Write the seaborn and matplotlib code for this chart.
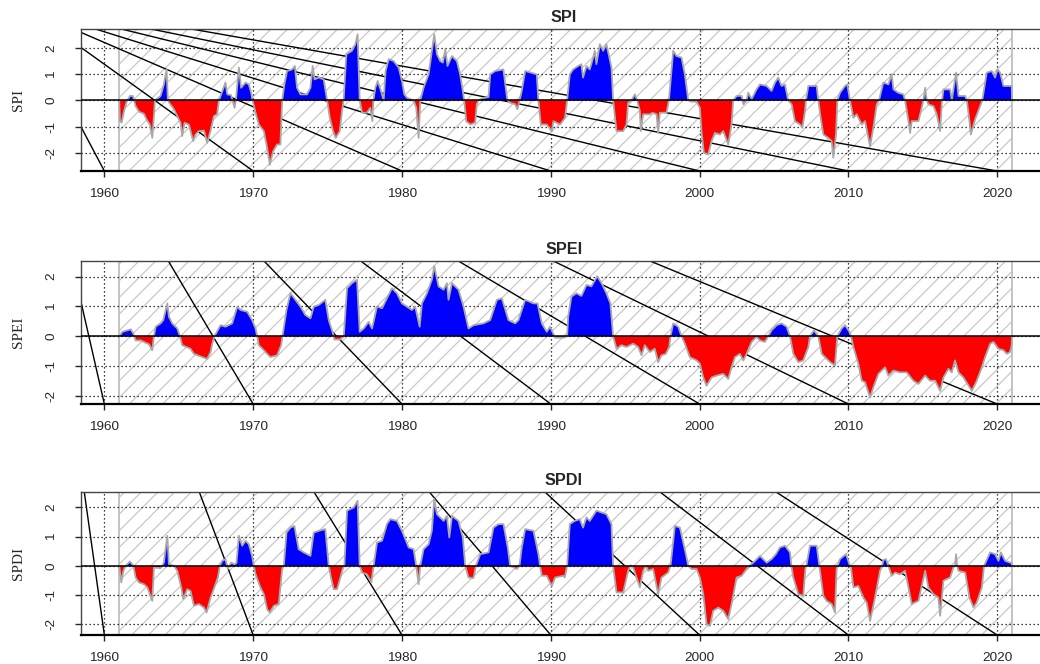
import numpy as np
import pandas as pd
import matplotlib
matplotlib.use("Agg")
import matplotlib.pyplot as plt
import seaborn as sns
from matplotlib.patches import Rectangle

# values (decimal year, index value)
spi_years = [1961.00, 1961.05, 1961.16, 1961.32, 1961.50, 1961.72, 1961.92, 1961.99, 1962.10, 1962.33,
             1962.66, 1962.84, 1963.06, 1963.22, 1963.29, 1963.40, 1963.78, 1964.00, 1964.18, 1964.27,
             1964.41, 1964.68, 1964.90, 1965.12, 1965.23, 1965.39, 1965.68, 1965.97, 1966.13, 1966.35,
             1966.69, 1966.91, 1967.14, 1967.36, 1967.58, 1967.70, 1967.85, 1968.14, 1968.26, 1968.52,
             1968.75, 1968.84, 1969.04, 1969.19, 1969.49, 1969.71, 1969.87, 1969.96, 1970.16, 1970.38,
             1970.72, 1970.94, 1971.12, 1971.34, 1971.61, 1971.83, 1971.95, 1972.10, 1972.28, 1972.62,
             1972.80, 1972.95, 1973.18, 1973.62, 1973.85, 1974.00, 1974.12, 1974.41, 1974.74, 1974.97,
             1975.15, 1975.37, 1975.55, 1975.82, 1975.97, 1976.08, 1976.26, 1976.64, 1976.87, 1977.02,
             1977.16, 1977.32, 1977.65, 1977.87, 1978.01, 1978.08, 1978.21, 1978.37, 1978.59, 1978.77,
             1978.90, 1979.11, 1979.44, 1979.78, 1980.00, 1980.16, 1980.34, 1980.78, 1980.96, 1981.12,
             1981.23, 1981.45, 1981.79, 1982.01, 1982.17, 1982.35, 1982.57, 1982.75, 1982.91, 1983.06,
             1983.36, 1983.69, 1983.91, 1984.09, 1984.18, 1984.32, 1984.59, 1984.92, 1985.03, 1985.15,
             1985.37, 1985.82, 1985.93, 1986.26, 1986.82, 1987.00, 1987.09, 1987.27, 1987.61, 1987.76,
             1987.90, 1988.05, 1988.28, 1988.66, 1989.06, 1989.17, 1989.33, 1989.73, 1990.07, 1990.18,
             1990.63, 1990.96, 1991.10, 1991.28, 1991.50, 1991.84, 1992.06, 1992.17, 1992.40, 1992.62,
             1992.85, 1992.96, 1993.07, 1993.30, 1993.52, 1993.74, 1993.92, 1994.08, 1994.19, 1994.42,
             1994.87, 1995.09, 1995.20, 1995.43, 1995.65, 1995.81, 1995.99, 1996.05, 1996.21, 1996.66,
             1996.84, 1997.11, 1997.22, 1997.33, 1997.78, 1997.94, 1998.23, 1998.45, 1998.79, 1999.01,
             1999.24, 1999.46, 1999.80, 2000.02, 2000.13, 2000.29, 2000.58, 2000.81, 2001.03, 2001.37,
             2001.59, 2001.93, 2002.15, 2002.26, 2002.49, 2002.83, 2002.94, 2003.16, 2003.27, 2003.50,
             2003.83, 2004.06, 2004.51, 2004.84, 2005.07, 2005.29, 2005.51, 2005.74, 2005.96, 2006.19,
             2006.41, 2006.75, 2006.91, 2007.09, 2007.15, 2007.31, 2007.87, 2007.98, 2008.14, 2008.32,
             2008.65, 2008.88, 2008.99, 2009.17, 2009.26, 2009.44, 2009.78, 2009.93, 2010.11, 2010.34,
             2010.56, 2010.90, 2011.12, 2011.46, 2011.68, 2011.91, 2012.06, 2012.35, 2012.69, 2012.91,
             2013.03, 2013.36, 2013.70, 2013.81, 2014.04, 2014.15, 2014.26, 2014.71, 2014.93, 2015.04,
             2015.16, 2015.27, 2015.38, 2015.72, 2015.94, 2016.17, 2016.28, 2016.39, 2016.84, 2016.95,
             2017.24, 2017.40, 2017.85, 2017.96, 2018.14, 2018.23, 2018.52, 2018.81, 2019.00, 2019.30,
             2019.64, 2019.86, 2020.02, 2020.20, 2020.42, 2020.76, 2020.98, 2021.00]
spi_values = [0.00, -0.79, -0.85, -0.41, -0.05, 0.17, 0.17, 0.00, -0.22, -0.43,
              -0.51, -0.73, -0.92, -1.43, -0.92, 0.00, 0.17, 0.61, 1.18, 0.00,
              -0.13, -0.34, -0.60, -0.85, -1.36, -0.85, -0.92, -1.55, -1.30, -1.17,
              -1.15, -1.62, -1.15, -0.60, -0.53, 0.00, 0.23, 0.68, 0.23, 0.20,
              -0.28, 0.00, 1.25, 0.48, 0.68, 0.61, 0.29, 0.00, -0.47, -0.92,
              -1.17, -1.81, -2.45, -1.94, -1.68, -1.68, 0.00, 0.61, 1.12, 1.18,
              1.31, 0.48, 0.23, 0.23, 0.48, 1.31, 0.80, 0.87, 0.80, 0.00,
              -0.66, -1.17, -1.43, -1.17, -0.41, 0.00, 1.76, 1.89, 2.14, 2.52,
              0.00, -0.47, -0.47, -0.28, -0.79, 0.00, 0.48, 0.74, 0.36, 0.00,
              1.12, 1.57, 1.50, 1.25, 0.74, 0.23, 0.10, 0.00, -0.28, -1.43,
              0.00, 0.48, 0.99, 1.89, 2.52, 1.76, 1.50, 1.44, 1.95, 1.31,
              1.69, 1.50, 0.99, 0.36, 0.00, -0.79, -0.92, -0.85, -0.15, 0.00,
              0.08, 0.13, 0.99, 1.12, 1.18, 0.36, 0.00, -0.09, -0.15, -0.34,
              0.00, 0.36, 1.12, 1.06, 0.99, 0.00, -0.92, -0.92, -1.17, -0.79,
              -0.92, -0.66, 0.00, 0.99, 1.18, 1.31, 1.38, 0.87, 1.31, 1.18,
              1.63, 1.89, 1.38, 2.14, 1.89, 2.14, 1.69, 1.25, 0.00, -1.17,
              -1.17, -0.92, -0.09, 0.00, 0.23, 0.00, -0.41, -1.17, -0.53, -0.53,
              -0.47, -0.53, -1.24, -0.47, -0.47, 0.00, 1.89, 1.69, 1.63, 0.99,
              0.00, -0.05, -0.05, -0.28, -1.17, -2.00, -2.06, -1.55, -1.24, -1.30,
              -1.17, -1.68, -0.92, 0.00, 0.17, 0.17, -0.15, 0.00, 0.29, 0.05,
              0.42, 0.61, 0.55, 0.36, 0.68, 0.87, 0.55, 0.61, 0.00, -0.15,
              -0.79, -0.92, -1.04, -0.41, 0.00, 0.55, 0.55, 0.00, -0.66, -1.30,
              -1.43, -1.55, -2.19, -1.30, 0.00, 0.29, 0.55, 0.61, 0.00, -0.66,
              -0.53, -0.92, -0.79, -1.75, -1.04, -0.15, 0.00, 0.68, 0.61, 0.99,
              0.42, 0.29, 0.23, 0.00, -0.79, -1.24, -0.79, -0.79, -0.28, 0.00,
              0.48, 0.00, -0.15, -0.22, -0.53, -1.17, -0.09, 0.42, 0.42, 0.00,
              1.06, 0.17, 0.17, 0.00, -0.79, -1.30, -0.72, -0.28, 0.00, 1.06,
              1.12, 0.87, 1.18, 1.06, 0.55, 0.55, 0.55, 0.00]

spei_years = [1961.00, 1961.21, 1961.77, 1961.95, 1962.10, 1962.44, 1962.66, 1963.00, 1963.22, 1963.33,
              1963.45, 1963.78, 1963.96, 1964.23, 1964.34, 1964.56, 1964.90, 1965.08, 1965.23, 1965.79,
              1966.02, 1966.58, 1966.91, 1967.14, 1967.25, 1967.40, 1967.81, 1968.14, 1968.59, 1968.93,
              1969.15, 1969.60, 1969.93, 1970.16, 1970.27, 1970.38, 1970.72, 1970.94, 1971.16, 1971.61,
              1971.88, 1971.97, 1972.24, 1972.51, 1972.84, 1973.18, 1973.51, 1973.85, 1974.07, 1974.41,
              1974.85, 1975.08, 1975.37, 1975.46, 1975.86, 1976.09, 1976.31, 1976.64, 1976.98, 1977.16,
              1977.43, 1977.76, 1977.99, 1978.32, 1978.66, 1978.99, 1979.33, 1979.66, 1980.00, 1980.34,
              1980.67, 1980.89, 1981.19, 1981.34, 1981.68, 1982.01, 1982.17, 1982.46, 1982.80, 1983.02,
              1983.13, 1983.36, 1983.80, 1984.14, 1984.47, 1984.81, 1985.48, 1985.93, 1986.38, 1986.71,
              1987.16, 1987.61, 1987.83, 1988.28, 1988.84, 1989.11, 1989.40, 1989.73, 1989.96, 1990.29,
              1990.85, 1991.10, 1991.17, 1991.39, 1991.73, 1992.06, 1992.40, 1992.73, 1993.12, 1993.41,
              1993.74, 1994.01, 1994.19, 1994.42, 1994.75, 1995.09, 1995.54, 1995.87, 1996.10, 1996.32,
              1996.66, 1996.99, 1997.22, 1997.44, 1997.73, 1997.96, 1998.05, 1998.23, 1998.56, 1998.79,
              1999.01, 1999.35, 1999.80, 2000.02, 2000.25, 2000.47, 2000.81, 2001.14, 2001.59, 2001.93,
              2002.15, 2002.38, 2002.71, 2002.94, 2003.16, 2003.50, 2003.83, 2004.06, 2004.39, 2004.62,
              2004.84, 2005.18, 2005.51, 2005.85, 2006.08, 2006.30, 2006.64, 2006.97, 2007.31, 2007.42,
              2007.69, 2007.98, 2008.21, 2008.43, 2008.77, 2009.10, 2009.26, 2009.55, 2009.78, 2010.07,
              2010.18, 2010.34, 2010.67, 2010.90, 2011.12, 2011.46, 2011.68, 2012.02, 2012.47, 2012.69,
              2013.03, 2013.47, 2013.92, 2014.37, 2014.71, 2015.16, 2015.49, 2015.83, 2016.17, 2016.39,
              2016.73, 2016.95, 2017.17, 2017.40, 2017.73, 2018.30, 2018.63, 2018.97, 2019.19, 2019.53,
              2019.75, 2020.09, 2020.43, 2020.65, 2020.87, 2020.98, 2021.00]
spei_values = [-0.02, 0.15, 0.23, 0.09, -0.14, -0.14, -0.19, -0.27, -0.47, 0.00,
               0.32, 0.43, 0.54, 1.10, 0.65, 0.43, 0.26, 0.00, -0.30, -0.42,
               -0.59, -0.70, -0.76, -0.53, -0.25, 0.00, 0.37, 0.32, 0.43, 0.99,
               0.88, 0.82, 0.54, 0.26, 0.00, -0.30, -0.47, -0.59, -0.70, -0.64,
               -0.30, 0.00, 0.88, 1.44, 1.22, 0.99, 0.71, 0.60, 0.99, 1.05,
               1.22, 0.54, 0.09, -0.11, -0.11, 0.00, 1.61, 1.78, 1.89, 0.15,
               0.26, 0.48, 0.26, 0.99, 0.94, 1.27, 1.61, 1.44, 1.10, 0.99,
               0.88, 0.99, 0.32, 1.10, 1.44, 1.89, 2.35, 1.67, 1.56, 1.78,
               1.22, 1.78, 1.56, 0.99, 0.26, 0.37, 0.43, 0.54, 1.22, 1.27,
               0.54, 0.43, 0.54, 1.22, 1.10, 1.10, 0.43, 0.15, 0.32, -0.05,
               -0.05, 0.00, 0.65, 1.33, 1.44, 1.35, 1.72, 1.67, 2.01, 1.78,
               1.44, 1.10, 0.00, -0.42, -0.30, -0.36, -0.25, -0.36, -0.64, -0.30,
               -0.53, -0.42, -0.87, -0.64, -0.59, -0.36, 0.00, 0.43, 0.32, 0.00,
               -0.25, -0.70, -0.81, -0.92, -1.38, -1.66, -1.38, -1.32, -1.26, -1.43,
               -1.04, -0.70, -0.59, -0.81, -0.59, -0.19, -0.02, -0.14, -0.19, 0.00,
               0.20, 0.37, 0.43, 0.32, 0.00, -0.59, -0.87, -0.81, -0.36, 0.00,
               0.20, 0.00, -0.59, -0.70, -0.87, -0.98, 0.00, 0.26, 0.37, 0.15,
               0.00, -0.36, -0.92, -1.49, -1.54, -2.05, -1.71, -1.26, -1.04, -1.32,
               -1.15, -1.21, -1.21, -1.49, -1.60, -1.32, -1.49, -1.49, -1.83, -1.38,
               -1.09, -1.21, -0.81, -1.21, -1.38, -1.83, -1.49, -1.04, -0.70, -0.25,
               -0.19, -0.42, -0.47, -0.59, -0.53, -0.30, 0.00]

spdi_years = [1961.00, 1961.14, 1961.28, 1961.43, 1961.72, 1961.95, 1962.10, 1962.33, 1962.66, 1962.89,
              1963.22, 1963.33, 1963.78, 1964.00, 1964.23, 1964.34, 1964.68, 1964.90, 1965.01, 1965.17,
              1965.30, 1965.57, 1965.79, 1966.02, 1966.35, 1966.69, 1966.87, 1967.14, 1967.47, 1967.63,
              1967.76, 1967.92, 1968.14, 1968.30, 1968.52, 1968.75, 1968.88, 1969.04, 1969.26, 1969.49,
              1969.71, 1969.93, 1970.04, 1970.16, 1970.49, 1970.72, 1970.94, 1971.12, 1971.39, 1971.72,
              1971.95, 1972.06, 1972.24, 1972.51, 1972.77, 1973.06, 1973.40, 1973.85, 1974.07, 1974.41,
              1974.85, 1975.08, 1975.23, 1975.41, 1975.64, 1975.86, 1976.02, 1976.13, 1976.31, 1976.76,
              1977.02, 1977.16, 1977.32, 1977.65, 1977.94, 1978.10, 1978.32, 1978.66, 1978.99, 1979.22,
              1979.66, 1980.00, 1980.45, 1980.78, 1980.96, 1981.12, 1981.23, 1981.45, 1981.79, 1982.01,
              1982.17, 1982.35, 1982.80, 1983.02, 1983.18, 1983.36, 1983.80, 1984.09, 1984.25, 1984.47,
              1984.81, 1984.97, 1985.26, 1985.82, 1986.15, 1986.49, 1986.82, 1987.11, 1987.27, 1987.72,
              1987.90, 1988.05, 1988.28, 1988.84, 1989.17, 1989.28, 1989.40, 1989.73, 1990.07, 1990.29,
              1990.85, 1990.94, 1991.10, 1991.28, 1991.61, 1991.95, 1992.17, 1992.40, 1992.62, 1993.07,
              1993.41, 1993.74, 1994.08, 1994.19, 1994.42, 1994.87, 1995.20, 1995.36, 1995.54, 1995.99,
              1996.21, 1996.39, 1996.55, 1996.88, 1997.22, 1997.44, 1997.89, 1998.05, 1998.34, 1998.68,
              1999.08, 1999.24, 1999.46, 1999.80, 2000.02, 2000.25, 2000.47, 2000.70, 2000.92, 2001.26,
              2001.59, 2001.93, 2002.15, 2002.49, 2002.83, 2003.16, 2003.34, 2003.61, 2004.06, 2004.51,
              2004.84, 2005.13, 2005.40, 2005.74, 2006.08, 2006.17, 2006.30, 2006.64, 2006.97, 2007.11,
              2007.18, 2007.42, 2007.87, 2008.05, 2008.32, 2008.54, 2008.88, 2009.10, 2009.21, 2009.28,
              2009.44, 2009.84, 2010.07, 2010.16, 2010.34, 2010.67, 2011.01, 2011.23, 2011.46, 2011.79,
              2012.13, 2012.27, 2012.35, 2012.53, 2012.69, 2012.91, 2013.14, 2013.47, 2013.81, 2014.04,
              2014.26, 2014.71, 2015.16, 2015.38, 2015.72, 2016.05, 2016.17, 2016.39, 2016.84, 2017.06,
              2017.17, 2017.24, 2017.31, 2017.40, 2017.85, 2018.14, 2018.41, 2018.63, 2018.97, 2019.12,
              2019.53, 2019.86, 2020.09, 2020.25, 2020.54, 2020.87, 2020.98, 2021.00]
spdi_values = [0.00, -0.57, -0.17, 0.00, 0.15, 0.00, -0.40, -0.57, -0.63, -0.74,
               -1.20, -0.06, -0.08, 0.11, 1.03, 0.06, 0.00, -0.17, -0.40, -0.74,
               -1.14, -0.80, -0.86, -1.37, -1.31, -1.43, -1.60, -1.09, -0.63, -0.40,
               0.00, 0.17, 0.23, -0.11, 0.11, 0.05, 0.10, 1.03, 0.69, 0.86,
               0.74, 0.34, 0.00, -0.29, -0.74, -0.97, -1.49, -1.60, -1.37, -1.31,
               -0.11, 0.00, 1.14, 1.31, 1.37, 0.57, 0.46, 0.34, 1.14, 1.20,
               1.26, 0.00, -0.40, -0.80, -0.80, -0.40, -0.11, 0.00, 1.89, 2.00,
               2.23, 0.00, -0.23, -0.29, -0.57, 0.00, 0.80, 0.86, 1.43, 1.60,
               1.54, 1.20, 0.63, 0.57, 0.00, -0.63, 0.00, 0.57, 0.74, 1.20,
               2.29, 1.77, 1.54, 1.71, 0.97, 1.71, 1.54, 0.97, 0.00, -0.40,
               -0.42, 0.00, 0.40, 0.46, 1.31, 1.43, 1.43, 0.63, 0.00, -0.11,
               0.00, 0.63, 1.26, 1.20, 0.40, 0.00, -0.34, -0.34, -0.69, -0.40,
               -0.34, -0.40, 0.00, 1.43, 1.54, 1.60, 1.31, 1.66, 1.54, 1.89,
               1.83, 1.77, 1.43, 0.00, -0.91, -0.91, -0.17, 0.02, -0.06, -0.74,
               -0.17, 0.00, -0.17, -0.11, -0.97, -0.40, -0.23, 0.00, 1.37, 1.31,
               0.40, 0.00, -0.11, -0.11, -0.40, -0.97, -2.00, -2.06, -1.54, -1.43,
               -1.54, -1.83, -1.31, -0.40, -0.34, -0.11, 0.00, 0.11, 0.34, 0.11,
               0.23, 0.40, 0.63, 0.69, 0.46, 0.00, -0.40, -0.97, -1.03, -0.11,
               0.00, 0.69, 0.69, 0.00, -1.03, -1.20, -1.31, -1.60, -0.11, 0.00,
               0.23, 0.40, 0.05, 0.00, -0.74, -0.69, -1.09, -1.26, -1.89, -1.09,
               -0.17, 0.00, 0.20, 0.23, 0.00, -0.34, -0.23, -0.29, -0.17, -0.74,
               -1.31, -1.20, -0.17, -0.74, -0.97, -1.09, -1.71, -0.51, -0.40, -0.06,
               0.00, 0.40, 0.00, -0.17, -0.23, -1.09, -1.43, -1.26, -0.74, 0.00,
               0.46, 0.40, 0.17, 0.46, 0.17, 0.11, 0.10, 0.00]

# reference period and axis ticks
ref_start, ref_end = 1961, 2021
year_ticks = [1960, 1970, 1980, 1990, 2000, 2010, 2020]
value_ticks = [-2, -1, 0, 1, 2]

# black slanted lines: year where each line meets the top edge (it ends at a year tick at the bottom)
spi_line_tops = [1954.95, 1956.7, 1957.9, 1959.4, 1961.14, 1963.13, 1965.85]
spei_line_tops = [1957.8, 1964.3, 1970.73, 1977.23, 1983.79, 1990.17, 1996.67]
spdi_line_tops = [1958.65, 1966.38, 1974.09, 1981.84, 1989.61, 1997.34, 2005.14]

panels = [
    ("SPI", spi_years, spi_values, (-2.69, 2.72), spi_line_tops),
    ("SPEI", spei_years, spei_values, (-2.27, 2.52), spei_line_tops),
    ("SPDI", spdi_years, spdi_values, (-2.37, 2.53), spdi_line_tops),
]

sns.set_style("white")
plt.rcParams["font.family"] = ["Liberation Sans", "DejaVu Sans"]
plt.rcParams["hatch.linewidth"] = 0.9

fig = plt.figure(figsize=(10.4, 6.64), dpi=100)
W, H = 1040, 664
# panel boxes in pixels: left, top, right, bottom
boxes = [(81, 29, 1047, 171), (81, 261, 1047, 404), (81, 492, 1047, 635)]

for (name, years, values, ylim, tops), (l, t, r, b) in zip(panels, boxes):
    ax = fig.add_axes([l / W, 1 - b / H, (r - l) / W, (b - t) / H])
    df = pd.DataFrame({"year": years, "value": values})
    x = df["year"].to_numpy()
    y = df["value"].to_numpy()

    ax.set_xlim(1958.43, 2023.35)
    ax.set_ylim(*ylim)

    # hatched reference period
    ax.add_patch(Rectangle((ref_start, ylim[0] - 1), ref_end - ref_start, ylim[1] - ylim[0] + 2,
                           facecolor="none", edgecolor="#c8c8c8", hatch="//", lw=0, zorder=0))
    ax.axvline(ref_start, color="#bebebe", lw=1.3, zorder=1)
    ax.axvline(ref_end, color="#bebebe", lw=1.3, zorder=1)

    # dotted grid
    for xt in year_ticks:
        ax.axvline(xt, color="black", lw=0.9, ls=(0, (1, 2.2)), zorder=2)
    for yt in value_ticks:
        ax.axhline(yt, color="black", lw=0.9, ls=(0, (1, 2.2)), zorder=2)

    # slanted black lines
    for top, xt in zip(tops, year_ticks):
        ax.plot([top, xt], [ylim[1], ylim[0]], color="black", lw=1.0, zorder=2.5)

    ax.fill_between(x, y, 0, where=y > 0, interpolate=True, color="blue", lw=0, zorder=3)
    ax.fill_between(x, y, 0, where=y <= 0, interpolate=True, color="red", lw=0, zorder=3)
    sns.lineplot(data=df, x="year", y="value", ax=ax, color="darkgrey", lw=1.3,
                 estimator=None, sort=False, zorder=4)
    ax.axhline(0, color="black", lw=1.1, zorder=5)

    ax.set_xticks(year_ticks)
    ax.set_xticklabels([str(v) for v in year_ticks], fontsize=9.7)
    ax.set_yticks(value_ticks)
    ax.set_yticklabels([str(v) for v in value_ticks], fontsize=9.7, rotation=90, va="center")
    ax.tick_params(axis="x", direction="out", length=4, width=1, pad=8, bottom=True)
    ax.tick_params(axis="y", direction="out", length=4, width=1, pad=13, left=True)

    for side in ["top", "right", "left"]:
        ax.spines[side].set_color("#444444")
        ax.spines[side].set_linewidth(1.0)
    ax.spines["bottom"].set_color("black")
    ax.spines["bottom"].set_linewidth(1.6)

    ax.set_xlabel("")
    ax.set_ylabel(name, family=["Liberation Serif", "DejaVu Serif"], fontsize=11)
    ax.yaxis.set_label_coords(-0.058, 0.5)
    ax.set_title(name, fontsize=11.7, fontweight="bold", pad=5)

fig.savefig("out.png", dpi=100)
